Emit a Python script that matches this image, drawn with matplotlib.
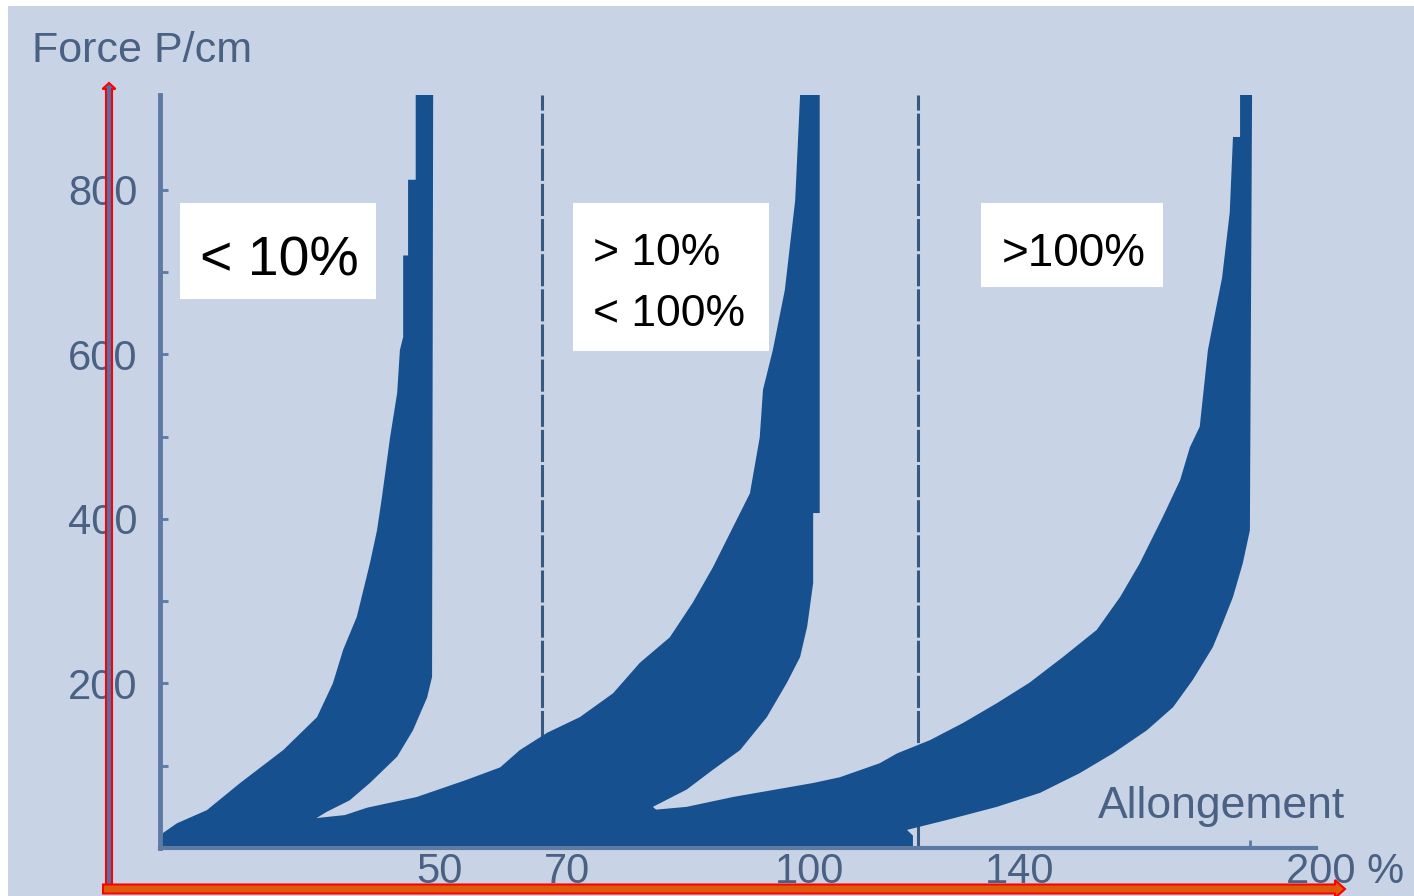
import matplotlib
matplotlib.use("Agg")
import matplotlib.pyplot as plt
from matplotlib.patches import Rectangle, FancyArrow
from matplotlib.transforms import IdentityTransform

plt.rcParams['font.family'] = ['Liberation Sans', 'DejaVu Sans']

# --- data (allongement in %, force in P/cm) ---
# band 1 : < 10 %
b1_left_x = [0, 0.5, 3.1, 8.6, 14.7, 22.6, 28.8, 31.7, 33.6, 36.1, 38.5, 39.8, 40.7, 42.2, 43.5, 44.0,
             44.6, 44.6, 45.5, 45.5, 46.9, 46.9]
b1_left_y = [0, 18, 30, 46, 79, 119, 159, 200, 241, 281, 346, 386, 426, 499, 553, 605,
             621, 720, 720, 812, 812, 915]
b1_right_x = [50.1, 49.9, 49.0, 46.4, 43.5, 38.5, 34.8, 30.6, 28.1, 32.0]
b1_right_y = [915, 208, 183, 143, 111, 79, 58, 44, 34, 0]

# band 2 : > 10 % < 100 %
b2_left_x = [23.8, 28.1, 33.9, 38.0, 47.1, 56.3, 62.4, 66.0, 71.0, 77.0, 83.1, 88.0, 93.5, 97.7, 101.4,
             105.1, 108.2, 110.0, 110.6, 112.4, 114.6, 116.5, 117.4]
b2_left_y = [0, 36, 40, 49, 62, 83, 98, 119, 140, 159, 188, 225, 256, 298, 341,
             390, 431, 499, 557, 605, 678, 787, 915]
b2_right_x = [121.0, 121.0, 119.8, 119.8, 118.7, 117.4, 115.0, 111.3, 106.4, 101.4, 96.6, 90.4, 99.0]
b2_right_y = [915, 407, 407, 322, 269, 232, 201, 159, 119, 95, 71, 50, 0]

# band 3 : > 100 %
b3_left_x = [80.7, 89.9, 96.6, 105.1, 119.8, 124.7, 132.0, 135.2, 141.2, 147.3, 153.5, 159.5, 165.6,
             171.8, 176.1, 179.7, 183.9, 187.1, 188.9, 190.7, 192.2, 193.1, 194.8, 196.2, 196.8,
             198.1, 198.1]
b3_left_y = [0, 46, 50, 62, 79, 86, 103, 115, 131, 152, 176, 201, 232,
             265, 305, 346, 402, 447, 487, 512, 605, 636, 693, 772, 864,
             864, 915]
b3_right_x = [200.3, 199.9, 198.6, 196.8, 194.9, 193.1, 189.4, 185.8, 181.0, 174.8, 168.7, 161.4,
              153.5, 144.3, 137.0, 138.1, 138.1]
b3_right_y = [915, 386, 346, 305, 273, 244, 204, 171, 143, 115, 91, 67,
              50, 34, 22, 15, 0]

bands_x = [b1_left_x + b1_right_x, b2_left_x + b2_right_x, b3_left_x + b3_right_x]
bands_y = [b1_left_y + b1_right_y, b2_left_y + b2_right_y, b3_left_y + b3_right_y]

limits = [70, 139]                       # dashed separators
y_major = [200, 400, 600, 800]
y_minor = [100, 300, 500, 700]
x_tick_pos = [51.3, 74.6, 119.2, 157.7, 217.3]
x_tick_labels = ['50', '70', '100', '140', '200 %']
box_texts = ['< 10%', '> 10%\n< 100%', '>100%']

BG = '#c8d4e6'
BAND = '#17508e'
AXC = '#5d7aa3'
TXT = '#4a6184'
W, H = 1414, 896


def fpos(x, y):
    # pixel position (from top-left) -> figure fraction
    return x / W, 1 - y / H


fig = plt.figure(figsize=(W / 100, H / 100), dpi=100)
fig.patch.set_facecolor('white')
fig.add_artist(Rectangle((8 / W, 0), 1 - 8 / W, 1 - 6 / H, transform=fig.transFigure,
                         facecolor=BG, edgecolor='none', zorder=-10))

ax = fig.add_axes([160 / W, 48 / H, 1 - 160 / W, (848 - 95) / H])
ax.patch.set_visible(False)
ax.set_xlim(0, 230)
ax.set_ylim(0, 915)

for xl in limits:
    ax.axvline(xl, color='#37597f', lw=2.2, dashes=(10.5, 1.0), zorder=1)

for bx, by in zip(bands_x, bands_y):
    ax.fill(bx, by, color=BAND, lw=0, zorder=2)

for s in ['top', 'right']:
    ax.spines[s].set_visible(False)
ax.spines['left'].set_color(AXC)
ax.spines['left'].set_linewidth(3.5)
ax.spines['bottom'].set_color(AXC)
ax.spines['bottom'].set_linewidth(3)
ax.spines['bottom'].set_bounds(0, 212)

ax.set_yticks(y_major)
ax.set_yticks(y_minor, minor=True)
ax.tick_params(axis='y', which='both', direction='in', length=6, width=2, color=AXC,
               labelsize=30, labelcolor=TXT, pad=16)
ax.set_xticks(x_tick_pos, x_tick_labels)
ax.set_xticks([200], minor=True)
ax.tick_params(axis='x', which='major', length=0, labelsize=30, labelcolor=TXT, pad=3)
ax.tick_params(axis='x', which='minor', direction='in', length=6, width=2, color=AXC)

fig.text(*fpos(32, 62), 'Force P/cm', fontsize=31, color=TXT, ha='left', va='baseline')
fig.text(*fpos(1098, 818), 'Allongement', fontsize=32, color=TXT, ha='left', va='baseline')

# white label boxes
boxes = [(180, 203, 376, 299), (573, 203, 769, 351), (981, 203, 1163, 287)]
for (x0, y0, x1, y1) in boxes:
    fig.add_artist(Rectangle(fpos(x0, y1), (x1 - x0) / W, (y1 - y0) / H, transform=fig.transFigure,
                             facecolor='white', edgecolor='none', zorder=5))
fig.text(*fpos(200, 275), box_texts[0], fontsize=40, color='black',
         ha='left', va='baseline', zorder=6)
fig.text(*fpos(593, 265), box_texts[1].split('\n')[0], fontsize=32, color='black',
         ha='left', va='baseline', zorder=6)
fig.text(*fpos(593, 326), box_texts[1].split('\n')[1], fontsize=32, color='black',
         ha='left', va='baseline', zorder=6)
fig.text(*fpos(1002, 266), box_texts[2], fontsize=33, color='black',
         ha='left', va='baseline', zorder=6)

# red arrows drawn over the chart
fig.add_artist(FancyArrow(109, 10, 0, 803, width=6, head_width=13, head_length=6,
                          length_includes_head=True, transform=IdentityTransform(),
                          facecolor='#4f72ac', edgecolor='#ff0000', lw=1.5, zorder=10))
fig.add_artist(FancyArrow(103, 7, 1242, 0, width=9, head_width=18, head_length=10,
                          length_includes_head=True, transform=IdentityTransform(),
                          facecolor='#dd5a0a', edgecolor='#ff0000', lw=1.5, zorder=10))

fig.savefig('out.png', dpi=100)
